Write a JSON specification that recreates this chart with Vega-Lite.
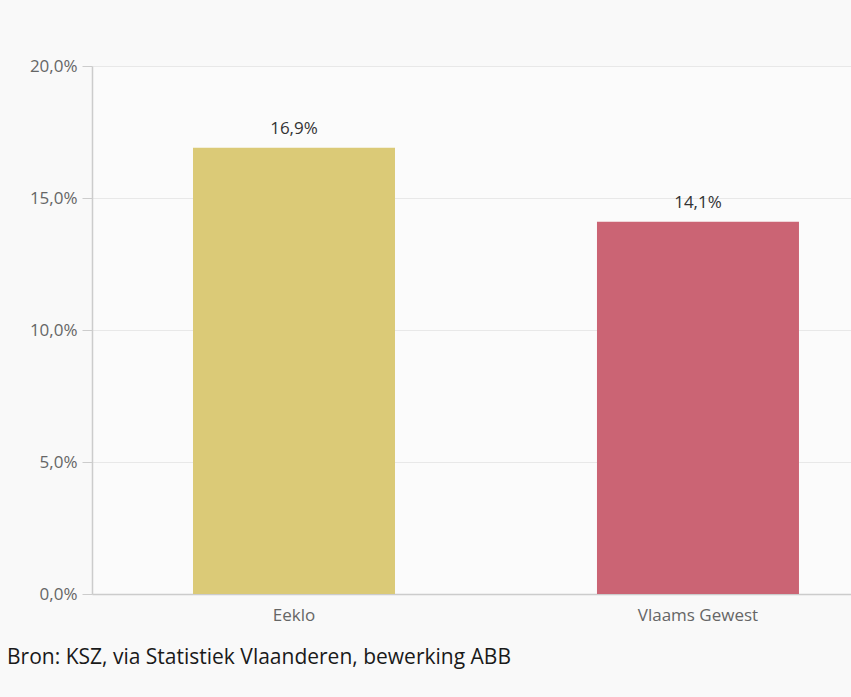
{
  "$schema": "https://vega.github.io/schema/vega-lite/v6.json",
  "width": 759,
  "height": 528,
  "autosize": {"type": "none"},
  "padding": {"left": 92, "top": 66, "right": 0, "bottom": 103},
  "background": "#f9f9f9",
  "config": {
    "font": "Open Sans",
    "view": {"stroke": null, "fill": "#fbfbfb"}
  },
  "title": {
    "text": "Bron: KSZ, via Statistiek Vlaanderen, bewerking ABB",
    "orient": "bottom",
    "anchor": "start",
    "frame": "group",
    "dx": -85,
    "offset": 24,
    "fontSize": 21,
    "fontWeight": "normal",
    "color": "#1a1a1a",
    "font": "Open Sans"
  },
  "data": {
    "values": [
      {"regio": "Eeklo", "waarde": 16.9, "label": "16,9%"},
      {"regio": "Vlaams Gewest", "waarde": 14.1, "label": "14,1%"}
    ]
  },
  "encoding": {
    "x": {
      "field": "regio",
      "type": "nominal",
      "sort": null,
      "scale": {"paddingInner": 0.5, "paddingOuter": 0.1894, "align": 0.66},
      "axis": {
        "title": null,
        "labelAngle": 0,
        "ticks": false,
        "domainColor": "#cccccc",
        "domainWidth": 1.5,
        "labelColor": "#666666",
        "labelFontSize": 17,
        "labelPadding": 13
      }
    },
    "y": {
      "field": "waarde",
      "type": "quantitative",
      "scale": {"domain": [0, 20], "nice": false},
      "axis": {
        "title": null,
        "values": [0, 5, 10, 15, 20],
        "labelExpr": "replace(format(datum.value, '.1f'), '.', ',') + '%'",
        "gridColor": "#e8e8e8",
        "domainColor": "#cccccc",
        "domainWidth": 1.5,
        "tickColor": "#cccccc",
        "tickSize": 10,
        "labelPadding": 5,
        "labelColor": "#666666",
        "labelFontSize": 17
      }
    }
  },
  "layer": [
    {
      "mark": {"type": "bar"},
      "encoding": {
        "color": {
          "field": "regio",
          "type": "nominal",
          "scale": {"domain": ["Eeklo", "Vlaams Gewest"], "range": ["#dbca77", "#cb6474"]},
          "legend": null
        }
      }
    },
    {
      "mark": {"type": "text", "baseline": "alphabetic", "dy": -14, "fontSize": 17, "color": "#333333"},
      "encoding": {"text": {"field": "label"}}
    }
  ]
}
